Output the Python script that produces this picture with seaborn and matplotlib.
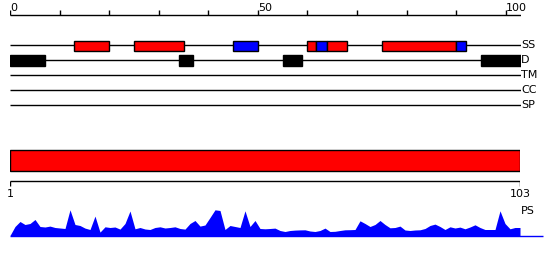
import matplotlib
matplotlib.use("Agg")
import matplotlib.pyplot as plt
import seaborn as sns
import numpy as np

sns.set_theme(style="white")
plt.rcParams['font.family'] = ['DejaVu Sans']

# ---------------- data ----------------
seq_len = 103
top_ticks = [0, 10, 20, 30, 40, 50, 60, 70, 80, 90, 100]
top_tick_labels = {0: "0", 50: "50", 100: "100"}

track_names = ["SS", "D", "TM", "CC", "SP"]

# secondary structure segments (start, end, type)
ss_starts = [13, 25, 45, 60, 61.8, 63.9, 75, 89.9]
ss_ends = [20, 35, 50, 61.8, 63.9, 68, 89.9, 92]
ss_types = ["H", "H", "E", "H", "E", "H", "H", "E"]

# disorder segments
dis_starts = [0, 34, 55, 95]
dis_ends = [7, 37, 59, 103]

# domain bar
dom_start = 1
dom_end = 103
bottom_ticks = [1, 103]

# PS profile values (residues 1..103)
ps_values = [0, 9, 14, 11, 12, 16, 9, 8.5, 9.4, 8, 7.5, 7, 25.7, 11, 10, 7.4, 6, 19.4, 3.4, 8.7,
             8, 8.5, 6.4, 12, 24.5, 6.7, 8, 6.5, 6, 8, 8.7, 7.5, 8, 8.7, 7, 6.4, 12, 15, 9.4, 10.5,
             18, 25.7, 25, 6, 10, 9, 8, 24.7, 9, 15, 7, 6.7, 7, 7.4, 5, 4, 5, 5.4, 5.6, 5.7,
             4.5, 4, 5, 7.4, 4, 4.2, 5, 5.7, 5.8, 6, 14.7, 12, 9, 11, 15, 11, 7.7, 8, 9.4, 5.5,
             5, 5.5, 5.7, 7, 10, 11.4, 9, 6, 8.7, 7.5, 8.4, 6.7, 8.5, 10.7, 8, 6, 6, 6, 24.7, 12,
             6.7, 8, 8]
ps_positions = list(range(1, seq_len + 1))

# ---------------- styles ----------------
W, H = 550, 260
RED = "#ff0000"
BLUE = "#0000ff"
FS = 8

fig = plt.figure(figsize=(W / 100, H / 100), dpi=100)
x0, x1 = 10, 520.6
# top axes: residue scale 0..103, y in pixel units
ax1 = fig.add_axes([x0 / W, 0, (x1 - x0) / W, 1])
ax1.set_xlim(0, seq_len)
ax1.set_ylim(H, 0)
ax1.axis("off")

# bottom axes: residue scale 1..103
bx0, bx1 = 10, 520
ax2 = fig.add_axes([bx0 / W, 0, (bx1 - bx0) / W, 1])
ax2.set_xlim(1, seq_len)
ax2.set_ylim(H, 0)
ax2.axis("off")
ax2.patch.set_alpha(0)

# top ruler
ax1.hlines(15, 0, seq_len, color="black", lw=1)
ax1.vlines(top_ticks, 10, 15, color="black", lw=1)
for t, lab in top_tick_labels.items():
    ax1.text(t, 11, lab, ha="left", va="baseline", fontsize=FS, color="black")

# track lines
track_y = [45, 60, 75, 90, 105]
for name, y in zip(track_names, track_y):
    ax1.hlines(y, 0, seq_len, color="black", lw=1)
    ax1.text(seq_len + 0.1, y, name, ha="left", va="center", fontsize=FS, color="black")

# SS boxes
for s, e, t in zip(ss_starts, ss_ends, ss_types):
    ax1.add_patch(plt.Rectangle((s, 40.5), e - s, 10, facecolor=RED if t == "H" else BLUE,
                                edgecolor="black", lw=1, zorder=3))
# disorder boxes
for s, e in zip(dis_starts, dis_ends):
    ax1.add_patch(plt.Rectangle((s, 55), e - s, 10.5, facecolor="black",
                                edgecolor="black", lw=1, zorder=3))

# domain bar
ax2.add_patch(plt.Rectangle((dom_start, 150), dom_end - dom_start, 20.5, facecolor=RED,
                            edgecolor="black", lw=1, zorder=3))
# bottom ruler
ax2.hlines(181, bottom_ticks[0], bottom_ticks[-1], color="black", lw=1)
ax2.vlines(bottom_ticks, 181, 186, color="black", lw=1)
for t in bottom_ticks:
    ax2.text(t, 189, str(t), ha="center", va="top", fontsize=FS, color="black")

# PS profile
base = 235.5
prof = base - np.array(ps_values)
ax2.fill_between(ps_positions, base, prof, color=BLUE, lw=0, zorder=2)
ax2.hlines(base, 1, 107.6, color=BLUE, lw=1, clip_on=False)
ax2.text(103.2, 211, "PS", ha="left", va="center", fontsize=FS, color="black")

fig.savefig("out.png", dpi=100)
